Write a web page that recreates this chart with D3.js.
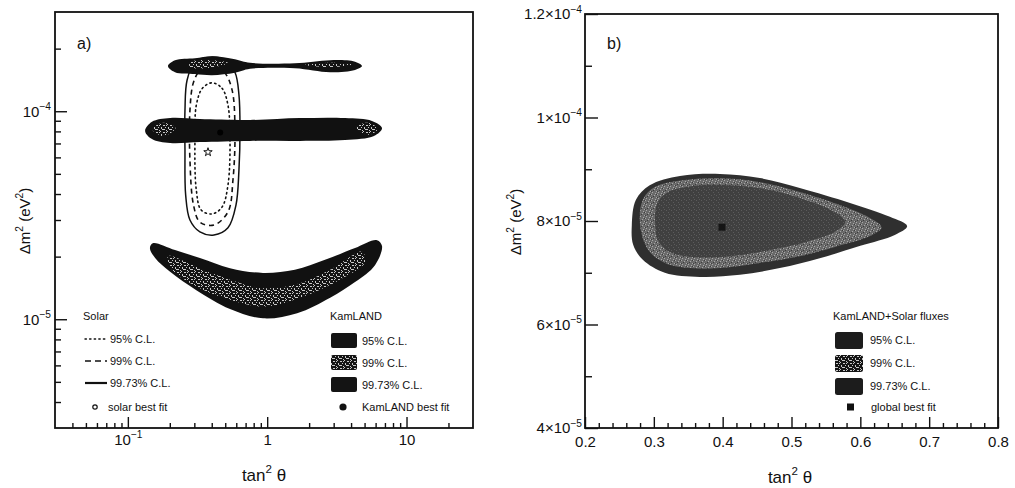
<!DOCTYPE html>
<html>
<head>
<meta charset="utf-8">
<script src="https://cdn.jsdelivr.net/npm/d3@7"></script>
<style>
body { margin: 0; background: #fff; }
svg text { font-family: "Liberation Sans", Arial, sans-serif; fill: #111; }
</style>
</head>
<body>
<div id="chart"></div>
<script>
// ---- panel a : tan^2 theta (log) vs dm^2 (log)
var aXMajor = [0.1, 1, 10];
var aXLabels = [["10", "−1"], ["1", ""], ["10", ""]];
var aXMinor = [0.04, 0.05, 0.06, 0.07, 0.08, 0.09, 0.2, 0.3, 0.4, 0.5, 0.6, 0.7, 0.8, 0.9,
               2, 3, 4, 5, 6, 7, 8, 9, 20];
var aYMajor = [1e-5, 1e-4];
var aYLabels = [["10", "−5"], ["10", "−4"]];
var aYMinor = [4e-6, 5e-6, 6e-6, 7e-6, 8e-6, 9e-6, 2e-5, 3e-5, 4e-5, 5e-5, 6e-5, 7e-5, 8e-5, 9e-5, 2e-4];

// solar contours [tan2, dm2]
var solar9973 = [[0.395,1.82e-4],[0.498,1.76e-4],[0.587,1.54e-4],[0.627,1.20e-4],[0.638,8.13e-5],[0.627,5.21e-5],
  [0.597,3.54e-5],[0.523,2.75e-5],[0.415,2.54e-5],[0.329,2.63e-5],[0.279,3.0e-5],[0.26,3.95e-5],
  [0.257,6.52e-5],[0.257,1.01e-4],[0.266,1.41e-4],[0.303,1.73e-4]];
var solar99 = [[0.395,1.61e-4],[0.49,1.54e-4],[0.559,1.27e-4],[0.587,8.13e-5],[0.568,4.67e-5],[0.523,3.28e-5],
  [0.415,2.84e-5],[0.329,2.93e-5],[0.296,3.54e-5],[0.279,5.83e-5],[0.279,1.01e-4],[0.296,1.38e-4],[0.329,1.56e-4]];
var solar95 = [[0.402,1.37e-4],[0.474,1.29e-4],[0.523,1.07e-4],[0.541,7.27e-5],[0.523,4.42e-5],[0.474,3.46e-5],
  [0.402,3.21e-5],[0.336,3.35e-5],[0.31,4.18e-5],[0.303,7.27e-5],[0.31,1.07e-4],[0.343,1.29e-4]];
var solarBest = [0.376, 6.36e-5];

// KamLAND islands (99.73% outline) and textured inner parts
var kamTop = [[0.194,1.65e-4],[0.218,1.76e-4],[0.303,1.80e-4],[0.402,1.84e-4],[0.587,1.78e-4],[0.753,1.71e-4],
  [1.58,1.70e-4],[2.83,1.76e-4],[4.27,1.73e-4],[4.79,1.65e-4],[4.27,1.58e-4],[2.83,1.54e-4],[1.58,1.61e-4],
  [0.753,1.60e-4],[0.587,1.53e-4],[0.402,1.49e-4],[0.303,1.51e-4],[0.218,1.54e-4]];
var kamMid = [[0.133,8.04e-5],[0.149,8.89e-5],[0.201,9.27e-5],[0.329,9.17e-5],[0.753,9.08e-5],[1.72,9.27e-5],
  [3.62,9.27e-5],[5.65,8.98e-5],[6.67,8.30e-5],[5.84,7.6e-5],[3.62,7.27e-5],[1.72,7.2e-5],[0.753,7.2e-5],
  [0.329,7.11e-5],[0.201,7.03e-5],[0.149,7.35e-5]];
var kamLow = [[0.151,2.32e-5],[0.218,2.15e-5],[0.329,1.97e-5],[0.541,1.76e-5],[0.933,1.67e-5],[1.58,1.73e-5],
  [2.60,1.93e-5],[4.27,2.20e-5],[6.14,2.40e-5],[6.67,2.25e-5],[5.94,1.82e-5],[4.27,1.51e-5],[2.83,1.27e-5],
  [1.64,1.07e-5],[0.933,1.01e-5],[0.541,1.12e-5],[0.31,1.38e-5],[0.201,1.69e-5],[0.157,1.97e-5],[0.144,2.20e-5]];
var kamLowIn = [[0.194,2.01e-5],[0.329,1.76e-5],[0.541,1.55e-5],[0.933,1.41e-5],[1.72,1.49e-5],[2.83,1.73e-5],
  [4.79,2.11e-5],[5.04,1.88e-5],[3.33,1.55e-5],[1.72,1.27e-5],[0.933,1.15e-5],[0.541,1.24e-5],[0.329,1.41e-5],[0.208,1.73e-5]];
var kamTopInL = [[0.279,1.72e-4],[0.40,1.76e-4],[0.523,1.71e-4],[0.40,1.62e-4],[0.279,1.63e-4]];
var kamTopInR = [[1.87,1.67e-4],[2.83,1.71e-4],[4.06,1.68e-4],[2.83,1.63e-4]];
var kamMidInL = [[0.15,8.2e-5],[0.18,8.8e-5],[0.22,8.3e-5],[0.18,7.6e-5]];
var kamMidInR = [[4.3,8.4e-5],[5.3,8.8e-5],[6.2,8.2e-5],[5.3,7.7e-5]];
var kamBest = [0.46, 7.9e-5];

var solarLegend = ["95% C.L.", "99% C.L.", "99.73% C.L.", "solar best fit"];
var kamLegend = ["95% C.L.", "99% C.L.", "99.73% C.L.", "KamLAND best fit"];

// ---- panel b : linear axes, global fit
var bXMajor = [0.2, 0.3, 0.4, 0.5, 0.6, 0.7, 0.8];
var bYMajor = [4e-5, 6e-5, 8e-5, 1e-4, 1.2e-4];
var bYLabels = [["4×10", "−5"], ["6×10", "−5"], ["8×10", "−5"], ["1×10", "−4"], ["1.2×10", "−4"]];
var bYMinor = [5e-5, 7e-5, 9e-5, 1.1e-4];

var glob9973 = [[0.268,7.92e-5],[0.274,8.41e-5],[0.294,8.69e-5],[0.338,8.87e-5],[0.396,8.91e-5],[0.454,8.83e-5],
  [0.512,8.64e-5],[0.585,8.35e-5],[0.643,8.08e-5],[0.668,7.90e-5],[0.650,7.73e-5],[0.600,7.52e-5],[0.541,7.28e-5],
  [0.483,7.09e-5],[0.425,6.96e-5],[0.367,6.92e-5],[0.316,7.0e-5],[0.284,7.25e-5],[0.270,7.54e-5]];
var glob99 = [[0.280,7.92e-5],[0.284,8.41e-5],[0.302,8.66e-5],[0.345,8.79e-5],[0.396,8.83e-5],[0.454,8.75e-5],
  [0.512,8.56e-5],[0.570,8.31e-5],[0.614,8.06e-5],[0.631,7.88e-5],[0.614,7.71e-5],[0.563,7.50e-5],[0.512,7.32e-5],
  [0.454,7.19e-5],[0.396,7.09e-5],[0.353,7.09e-5],[0.316,7.19e-5],[0.292,7.44e-5]];
var glob95 = [[0.302,7.92e-5],[0.305,8.35e-5],[0.321,8.56e-5],[0.360,8.68e-5],[0.411,8.69e-5],[0.469,8.60e-5],
  [0.520,8.41e-5],[0.563,8.17e-5],[0.578,7.98e-5],[0.563,7.79e-5],[0.520,7.59e-5],[0.469,7.44e-5],[0.411,7.32e-5],
  [0.360,7.30e-5],[0.323,7.40e-5],[0.306,7.63e-5]];
var globBest = [0.399, 7.88e-5];

var globLegend = ["95% C.L.", "99% C.L.", "99.73% C.L.", "global best fit"];

var svgWidth = 1015;
var svgHeight = 488;

var svg = d3.select("#chart")
    .append("svg")
    .attr("width", svgWidth)
    .attr("height", svgHeight);

// speckle textures
var defs = svg.append("defs");
var patA = defs.append("pattern")
    .attr("id", "speckA")
    .attr("width", 7).attr("height", 7)
    .attr("patternUnits", "userSpaceOnUse");
patA.append("rect").attr("width", 7).attr("height", 7).attr("fill", "#141414");
[[0,0,1,1],[3,1,2,1],[5,3,1,1],[1,3,1,2],[2,5,2,1],[6,6,1,1],[4,5,1,1],[6,1,1,1]].forEach(function(p){
    patA.append("rect").attr("x", p[0]).attr("y", p[1]).attr("width", p[2]).attr("height", p[3]).attr("fill", "#c8c8c8");
});
var patB = defs.append("pattern")
    .attr("id", "speckB")
    .attr("width", 6).attr("height", 6)
    .attr("patternUnits", "userSpaceOnUse");
patB.append("rect").attr("width", 6).attr("height", 6).attr("fill", "#6a6a6a");
[[0,0],[3,1],[5,3],[1,4],[4,5]].forEach(function(p){
    patB.append("rect").attr("x", p[0]).attr("y", p[1]).attr("width", 1).attr("height", 1).attr("fill", "#a8a8a8");
});
[[2,2],[5,0],[0,3]].forEach(function(p){
    patB.append("rect").attr("x", p[0]).attr("y", p[1]).attr("width", 1).attr("height", 1).attr("fill", "#3c3c3c");
});
var patC = defs.append("pattern")
    .attr("id", "speckC")
    .attr("width", 5).attr("height", 5)
    .attr("patternUnits", "userSpaceOnUse");
patC.append("rect").attr("width", 5).attr("height", 5).attr("fill", "#404040");
[[1,1],[3,3],[4,0]].forEach(function(p){
    patC.append("rect").attr("x", p[0]).attr("y", p[1]).attr("width", 1).attr("height", 1).attr("fill", "#5c5c5c");
});

// text with superscripts: parts = [[str, isSup], ...]
function supText(sel, parts, fs) {
    parts.forEach(function(p, i) {
        if (p[0] === "") return;
        var prevSup = i > 0 && parts[i - 1][1] && parts[i - 1][0] !== "";
        var t = sel.append("tspan")
            .attr("font-size", p[1] ? fs * 0.68 : fs)
            .text(p[0]);
        if (p[1]) t.attr("dy", -fs * 0.45);
        else if (prevSup) t.attr("dy", fs * 0.45);
    });
}

// ================= panel a =================
var marginA = { left: 55, top: 12 };
var wA = 418, hA = 416;
var gA = svg.append("g").attr("transform", `translate(${marginA.left}, ${marginA.top})`);

var xA = d3.scaleLog().domain([0.03, 30]).range([0, wA]);
var yA = d3.scaleLog().domain([3e-6, 3e-4]).range([hA, 0]);
var lineA = d3.line()
    .x(d => xA(d[0]))
    .y(d => yA(d[1]))
    .curve(d3.curveCatmullRomClosed.alpha(0.5));

// solar contours
gA.append("path").attr("d", lineA(solar9973))
    .attr("fill", "none").attr("stroke", "#111").attr("stroke-width", 1.5);
gA.append("path").attr("d", lineA(solar99))
    .attr("fill", "none").attr("stroke", "#111").attr("stroke-width", 1.6).attr("stroke-dasharray", "5,4");
gA.append("path").attr("d", lineA(solar95))
    .attr("fill", "none").attr("stroke", "#111").attr("stroke-width", 1.6)
    .attr("stroke-dasharray", "1.4,3.4").attr("stroke-linecap", "round");

// KamLAND islands
[kamTop, kamMid, kamLow].forEach(function(c) {
    gA.append("path").attr("d", lineA(c)).attr("fill", "#111");
});
[kamLowIn, kamTopInL, kamTopInR, kamMidInL, kamMidInR].forEach(function(c) {
    gA.append("path").attr("d", lineA(c)).attr("fill", "url(#speckA)");
});
gA.append("circle")
    .attr("cx", xA(kamBest[0])).attr("cy", yA(kamBest[1]))
    .attr("r", 3).attr("fill", "#000");

// solar best fit
gA.append("path")
    .attr("d", d3.symbol(d3.symbolStar, 22)())
    .attr("transform", `translate(${xA(solarBest[0])}, ${yA(solarBest[1])})`)
    .attr("fill", "#fff").attr("stroke", "#111").attr("stroke-width", 1);

// axes
gA.append("g")
    .attr("transform", `translate(0, ${hA})`)
    .call(d3.axisBottom(xA).tickValues(aXMinor).tickSize(-5).tickFormat(""))
    .call(g => g.select(".domain").remove());
var xAxisA = gA.append("g")
    .attr("transform", `translate(0, ${hA})`)
    .call(d3.axisBottom(xA).tickValues(aXMajor).tickSize(-11).tickPadding(6).tickFormat(""))
    .call(g => g.select(".domain").remove());
xAxisA.selectAll(".tick text").each(function(d, i) {
    supText(d3.select(this), [[aXLabels[i][0], false], [aXLabels[i][1], true]], 15);
});
gA.append("g")
    .call(d3.axisLeft(yA).tickValues(aYMinor).tickSize(-6).tickFormat(""))
    .call(g => g.select(".domain").remove());
var yAxisA = gA.append("g")
    .call(d3.axisLeft(yA).tickValues(aYMajor).tickSize(-12).tickPadding(4).tickFormat(""))
    .call(g => g.select(".domain").remove());
yAxisA.selectAll(".tick text").each(function(d, i) {
    supText(d3.select(this), [[aYLabels[i][0], false], [aYLabels[i][1], true]], 15);
});
svg.selectAll(".tick line").attr("stroke", "#111").attr("stroke-width", 1.4);
svg.selectAll(".tick text").attr("font-size", 15).attr("fill", "#111")
    .attr("font-family", "Liberation Sans, Arial, sans-serif");

gA.append("rect")
    .attr("width", wA).attr("height", hA)
    .attr("fill", "none").attr("stroke", "#111").attr("stroke-width", 1.8);

gA.append("text").attr("x", 22).attr("y", 37).attr("font-size", 16).text("a)");

// solar legend
var solarLeg = gA.append("g").attr("transform", "translate(28, 306)");
solarLeg.append("text").attr("x", 0).attr("y", 2).attr("font-size", 11).text("Solar");
var solarStyles = [
    { dash: "1.4,3.2", w: 1.4 },
    { dash: "6,4", w: 1.6 },
    { dash: null, w: 2.2 }
];
solarLegend.forEach(function(lbl, i) {
    var yy = 21 + i * 22;
    if (i < 3) {
        solarLeg.append("line")
            .attr("x1", 2).attr("x2", 24).attr("y1", yy).attr("y2", yy)
            .attr("stroke", "#111").attr("stroke-width", solarStyles[i].w)
            .attr("stroke-dasharray", solarStyles[i].dash)
            .attr("stroke-linecap", i === 0 ? "round" : "butt");
    } else {
        yy = 89;
        solarLeg.append("circle").attr("cx", 12).attr("cy", yy)
            .attr("r", 2.2).attr("fill", "none").attr("stroke", "#111").attr("stroke-width", 1.2);
    }
    solarLeg.append("text").attr("x", i < 3 ? 27 : 25).attr("y", yy + 4)
        .attr("font-size", 11).text(lbl);
});

// KamLAND legend
var kamLeg = gA.append("g").attr("transform", "translate(275, 306)");
kamLeg.append("text").attr("x", 0).attr("y", 2).attr("font-size", 11).text("KamLAND");
var kamFills = ["#141414", "url(#speckA)", "#141414"];
kamLegend.forEach(function(lbl, i) {
    var yy = 23 + i * 22;
    if (i < 3) {
        kamLeg.append("rect")
            .attr("x", 1).attr("y", yy - 8).attr("width", 26).attr("height", 15).attr("rx", 2)
            .attr("fill", kamFills[i]);
    } else {
        yy = 89;
        kamLeg.append("circle").attr("cx", 13).attr("cy", yy).attr("r", 3.6).attr("fill", "#111");
    }
    kamLeg.append("text").attr("x", 32).attr("y", yy + 4).attr("font-size", 11).text(lbl);
});

// axis titles
var yTitleA = svg.append("text")
    .attr("transform", "translate(30, 221) rotate(-90)")
    .attr("text-anchor", "middle");
supText(yTitleA, [["Δm", false], ["2", true], [" (eV", false], ["2", true], [")", false]], 15);
var xTitleA = svg.append("text")
    .attr("x", 264).attr("y", 481)
    .attr("text-anchor", "middle");
supText(xTitleA, [["tan", false], ["2", true], [" θ", false]], 17);

// ================= panel b =================
var marginB = { left: 585, top: 14 };
var wB = 413, hB = 414;
var gB = svg.append("g").attr("transform", `translate(${marginB.left}, ${marginB.top})`);

var xB = d3.scaleLinear().domain([0.2, 0.8]).range([0, wB]);
var yB = d3.scaleLinear().domain([4e-5, 1.2e-4]).range([hB, 0]);
var lineB = d3.line()
    .x(d => xB(d[0]))
    .y(d => yB(d[1]))
    .curve(d3.curveCatmullRomClosed.alpha(0.5));

gB.append("path").attr("d", lineB(glob9973)).attr("fill", "#2f2f2f");
gB.append("path").attr("d", lineB(glob99)).attr("fill", "url(#speckB)");
gB.append("path").attr("d", lineB(glob95)).attr("fill", "url(#speckC)");
gB.append("rect")
    .attr("x", xB(globBest[0]) - 3.5).attr("y", yB(globBest[1]) - 3.5)
    .attr("width", 7).attr("height", 7).attr("fill", "#151515");

var bXMinor = d3.range(0.22, 0.8, 0.02).filter(v => Math.abs(v * 10 - Math.round(v * 10)) > 0.01);
gB.append("g")
    .attr("transform", `translate(0, ${hB})`)
    .call(d3.axisBottom(xB).tickValues(bXMinor).tickSize(-5).tickFormat(""))
    .call(g => g.select(".domain").remove());
gB.append("g")
    .attr("transform", `translate(0, ${hB})`)
    .call(d3.axisBottom(xB).tickValues(bXMajor).tickSize(-11).tickPadding(8).tickFormat(d3.format(".1f")))
    .call(g => g.select(".domain").remove());
gB.append("g")
    .call(d3.axisLeft(yB).tickValues(bYMinor).tickSize(-7).tickFormat(""))
    .call(g => g.select(".domain").remove());
var yAxisB = gB.append("g")
    .call(d3.axisLeft(yB).tickValues(bYMajor).tickSize(-13).tickPadding(3).tickFormat(""))
    .call(g => g.select(".domain").remove());
yAxisB.selectAll(".tick text").each(function(d, i) {
    supText(d3.select(this), [[bYLabels[i][0], false], [bYLabels[i][1], true]], 15);
});
gB.selectAll(".tick line").attr("stroke", "#111").attr("stroke-width", 1.4);
gB.selectAll(".tick text").attr("font-size", 15).attr("fill", "#111")
    .attr("font-family", "Liberation Sans, Arial, sans-serif");

gB.append("rect")
    .attr("width", wB).attr("height", hB)
    .attr("fill", "none").attr("stroke", "#111").attr("stroke-width", 1.8);

gB.append("text").attr("x", 22).attr("y", 35).attr("font-size", 16).text("b)");

// global legend
var globLeg = gB.append("g").attr("transform", "translate(248, 306)");
globLeg.append("text").attr("x", 0).attr("y", 0).attr("font-size", 11).text("KamLAND+Solar fluxes");
var globFills = ["#1c1c1c", "url(#speckA)", "#1c1c1c"];
globLegend.forEach(function(lbl, i) {
    var yy = 20 + i * 23;
    if (i < 3) {
        globLeg.append("rect")
            .attr("x", 2).attr("y", yy - 8).attr("width", 28).attr("height", 17).attr("rx", 2.5)
            .attr("fill", globFills[i]);
    } else {
        yy = 87;
        globLeg.append("rect").attr("x", 14).attr("y", yy - 3.5)
            .attr("width", 7).attr("height", 7).attr("fill", "#111");
    }
    globLeg.append("text").attr("x", i < 3 ? 37 : 38).attr("y", yy + 4).attr("font-size", 11).text(lbl);
});

var yTitleB = svg.append("text")
    .attr("transform", "translate(521, 222) rotate(-90)")
    .attr("text-anchor", "middle");
supText(yTitleB, [["Δm", false], ["2", true], [" (eV", false], ["2", true], [")", false]], 15);
var xTitleB = svg.append("text")
    .attr("x", 790).attr("y", 483)
    .attr("text-anchor", "middle");
supText(xTitleB, [["tan", false], ["2", true], [" θ", false]], 17);
</script>
</body>
</html>
